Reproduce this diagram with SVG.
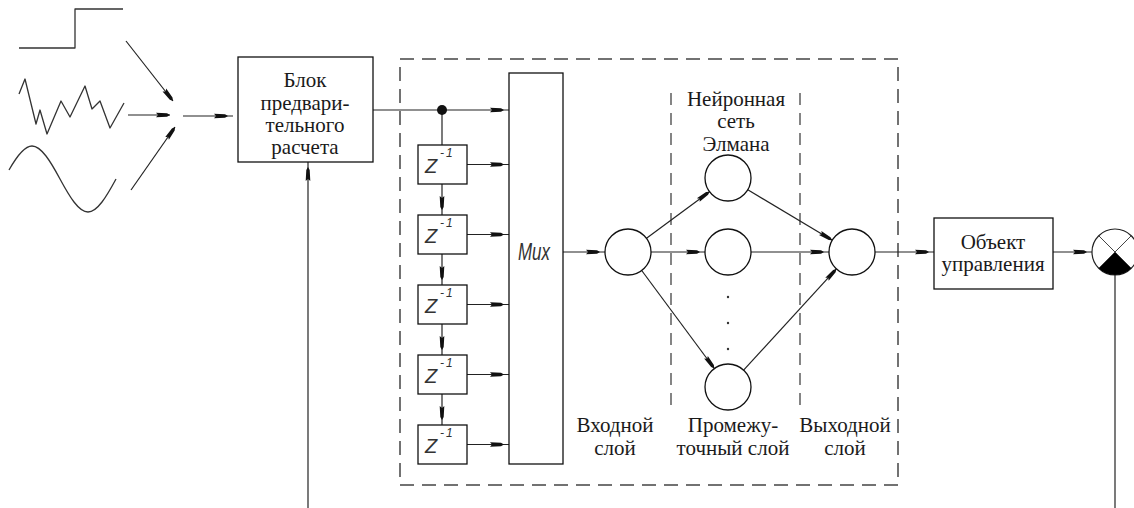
<svg xmlns="http://www.w3.org/2000/svg" width="1134" height="508" viewBox="0 0 1134 508">
<style>
.ln{fill:none;stroke:#222;stroke-width:1.2}
.box{fill:#fff;stroke:#111;stroke-width:1.3}
.sig{fill:none;stroke:#333;stroke-width:1.3;stroke-linejoin:round}
.t{font-family:"Liberation Serif","DejaVu Serif","Noto Serif","Times New Roman",serif;font-size:21px;fill:#1a1a1a;text-anchor:middle}
.z{font-family:"Liberation Sans",Arial,sans-serif;font-style:italic;fill:#333}
.dash{fill:none;stroke:#444;stroke-width:1.5;stroke-dasharray:14 8}
.dash2{fill:none;stroke:#444;stroke-width:1.3;stroke-dasharray:12 8}
.a{marker-end:url(#arr)}
.ae{marker-end:url(#arrE)}
</style>
<defs>
<marker id="arr" markerUnits="userSpaceOnUse" viewBox="0 -5 24 10" markerWidth="24" markerHeight="10" refX="19" refY="0" orient="auto">
<path d="M0,-2.3 L11,-1.7 L14,0 L11,1.7 L0,2.3 L2,0 Z" fill="#111"/>
</marker>
<marker id="arrE" markerUnits="userSpaceOnUse" viewBox="0 -5 24 10" markerWidth="24" markerHeight="10" refX="14" refY="0" orient="auto">
<path d="M0,-2.3 L11,-1.7 L14,0 L11,1.7 L0,2.3 L2,0 Z" fill="#111"/>
</marker>
</defs>
<rect width="1134" height="508" fill="#fff"/>

<g id="signals">
<polyline class="sig" points="19,48 75,48 75,9 123,9"/>
<polyline class="sig" points="19,94 25,79 36,124 40,110 47,134 61,101 70,117 85,86 92,109 100,101 110,128 124,103"/>
<path class="sig" d="M9,170 C16.7,156.4 24.3,146 32,146 C41.33,146 50.67,161.7 60,179 C69.33,196.3 78.67,212 88,212 C97.33,212 106.67,196.3 116,179"/>
</g>

<g id="outer-frame">
<rect class="dash" x="400" y="59" width="498" height="426"/>
</g>
<g id="elman-frame">
<line class="dash2" x1="671" y1="93" x2="671" y2="408"/>
<line class="dash2" x1="800" y1="93" x2="800" y2="408"/>
</g>

<g id="connectors">
<line class="ln ae" x1="126" y1="41" x2="173" y2="101"/>
<line class="ln ae" x1="128" y1="115" x2="170" y2="115"/>
<line class="ln ae" x1="131" y1="190" x2="175" y2="127"/>
<line class="ln a" x1="183" y1="116" x2="233" y2="116"/>
<line class="ln a" x1="308" y1="508" x2="308" y2="162"/>
<line class="ln a" x1="373" y1="110" x2="509" y2="110"/>
<line class="ln" x1="442" y1="110" x2="442" y2="145"/>
<line class="ln a" x1="442" y1="184" x2="442" y2="215"/>
<line class="ln a" x1="442" y1="254" x2="442" y2="285"/>
<line class="ln a" x1="442" y1="324" x2="442" y2="355"/>
<line class="ln a" x1="442" y1="394" x2="442" y2="425"/>
<line class="ln a" x1="467" y1="164.5" x2="509" y2="164.5"/>
<line class="ln a" x1="467" y1="234.5" x2="509" y2="234.5"/>
<line class="ln a" x1="467" y1="304.5" x2="509" y2="304.5"/>
<line class="ln a" x1="467" y1="374.5" x2="509" y2="374.5"/>
<line class="ln a" x1="467" y1="444.5" x2="509" y2="444.5"/>
<line class="ln a" x1="563" y1="252" x2="605" y2="252"/>
<line class="ln ae" x1="646.5" y1="238.3" x2="709.5" y2="191.7"/>
<line class="ln a" x1="651" y1="252" x2="705" y2="252"/>
<line class="ln ae" x1="641.7" y1="270.5" x2="714.3" y2="368.5"/>
<line class="ln ae" x1="747.8" y1="189.8" x2="832.2" y2="240.2"/>
<line class="ln a" x1="751" y1="252" x2="829" y2="252"/>
<line class="ln ae" x1="743.6" y1="370.1" x2="836.4" y2="268.9"/>
<line class="ln a" x1="875" y1="252" x2="934" y2="252"/>
<line class="ln a" x1="1053" y1="252" x2="1092" y2="252"/>
<line class="ln" x1="1115" y1="275" x2="1115" y2="508"/>
<circle cx="442" cy="110" r="5" fill="#111"/>
</g>

<g id="block-pre">
<rect class="box" x="238" y="57" width="135" height="105"/>
<text class="t" x="305" y="87">Блок</text>
<text class="t" x="305" y="110">предвари-</text>
<text class="t" x="305" y="132">тельного</text>
<text class="t" x="305" y="154">расчета</text>
</g>

<g id="z1"><rect class="box" x="418" y="145" width="49" height="39"/><text class="z" x="425" y="173" font-size="20">Z</text><text class="z" x="440" y="157" font-size="12" letter-spacing="2">-1</text></g>
<g id="z2"><rect class="box" x="418" y="215" width="49" height="39"/><text class="z" x="425" y="243" font-size="20">Z</text><text class="z" x="440" y="227" font-size="12" letter-spacing="2">-1</text></g>
<g id="z3"><rect class="box" x="418" y="285" width="49" height="39"/><text class="z" x="425" y="313" font-size="20">Z</text><text class="z" x="440" y="297" font-size="12" letter-spacing="2">-1</text></g>
<g id="z4"><rect class="box" x="418" y="355" width="49" height="39"/><text class="z" x="425" y="383" font-size="20">Z</text><text class="z" x="440" y="367" font-size="12" letter-spacing="2">-1</text></g>
<g id="z5"><rect class="box" x="418" y="425" width="49" height="39"/><text class="z" x="425" y="453" font-size="20">Z</text><text class="z" x="440" y="437" font-size="12" letter-spacing="2">-1</text></g>

<g id="mux">
<rect class="box" x="509" y="73" width="54" height="391"/>
<text class="z" x="518" y="260" font-size="23" textLength="32" lengthAdjust="spacingAndGlyphs" fill="#444">Mux</text>
</g>

<g id="input-neuron"><circle class="box" cx="628" cy="252" r="23"/></g>
<g id="hidden-neuron-1"><circle class="box" cx="728" cy="178" r="23"/></g>
<g id="hidden-neuron-2"><circle class="box" cx="728" cy="252" r="23"/></g>
<g id="hidden-neuron-n"><circle class="box" cx="728" cy="387" r="23"/></g>
<g id="hidden-dots">
<circle cx="728" cy="297" r="1.2" fill="#333"/>
<circle cx="728" cy="323" r="1.2" fill="#333"/>
<circle cx="728" cy="349" r="1.2" fill="#333"/>
</g>
<g id="output-neuron"><circle class="box" cx="852" cy="252" r="23"/></g>

<g id="labels">
<text class="t" x="736" y="106">Нейронная</text>
<text class="t" x="736" y="128">сеть</text>
<text class="t" x="736" y="151">Элмана</text>
<text class="t" x="615" y="432" font-size="20">Входной</text>
<text class="t" x="615" y="455" font-size="20">слой</text>
<text class="t" x="733" y="432" font-size="20">Промежу-</text>
<text class="t" x="733" y="455" font-size="20">точный слой</text>
<text class="t" x="845" y="432" font-size="20">Выходной</text>
<text class="t" x="845" y="455" font-size="20">слой</text>
</g>

<g id="plant">
<rect class="box" x="934" y="218" width="119" height="71"/>
<text class="t" x="993" y="249">Объект</text>
<text class="t" x="993" y="271">управления</text>
</g>

<g id="comparator">
<circle cx="1115" cy="252" r="23" fill="#fff" stroke="#222" stroke-width="1.2"/>
<path d="M1115,252 L1131.26,268.26 A23,23 0 0 1 1098.74,268.26 Z" fill="#000"/>
<line x1="1098.74" y1="235.74" x2="1131.26" y2="268.26" stroke="#444" stroke-width="1"/>
<line x1="1131.26" y1="235.74" x2="1098.74" y2="268.26" stroke="#444" stroke-width="1"/>
</g>
</svg>
